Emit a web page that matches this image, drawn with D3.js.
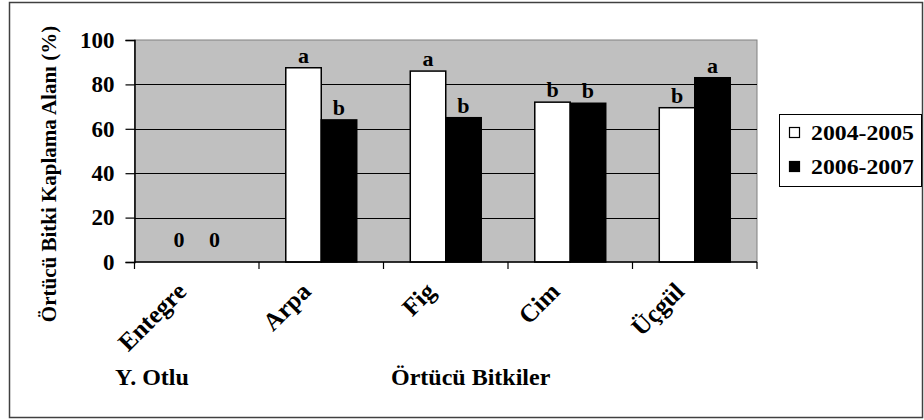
<!DOCTYPE html>
<html>
<head>
<meta charset="utf-8">
<script src="https://cdn.jsdelivr.net/npm/d3@7"></script>
<style>
  html, body { margin: 0; padding: 0; background: #fff; }
  svg { display: block; font-family: "Liberation Serif", "Times New Roman", serif; }
  text { font-family: "Liberation Serif", "Times New Roman", serif; font-weight: bold; fill: #000; }
</style>
</head>
<body>
<svg id="chart" width="924" height="420"></svg>
<script>
const categories = ["Entegre", "Arpa", "Fig", "Cim", "Üçgül"];
const seriesNames = ["2004-2005", "2006-2007"];
const values2004 = [0, 87.5, 86, 72, 69.5];
const values2006 = [0, 64, 65, 71.5, 83];
const letters2004 = ["0", "a", "a", "b", "b"];
const letters2006 = ["0", "b", "b", "b", "a"];
const yTicks = [0, 20, 40, 60, 80, 100];
const seriesFill = ["#ffffff", "#000000"];
const yTitle = "Örtücü Bitki Kaplama Alanı (%)";
const xTitle = "Örtücü Bitkiler";
const xSubTitle = "Y. Otlu";

const svg = d3.select("#chart");
const plot = { left: 134.5, right: 757, top: 40, bottom: 262 };

// outer border
svg.append("rect").attr("x", 9.5).attr("y", 2.5).attr("width", 913).attr("height", 415)
  .attr("fill", "#fff").attr("stroke", "#404040").attr("stroke-width", 1.5);

const x0 = d3.scaleBand().domain(categories).range([plot.left, plot.right]).padding(0);
const x1 = d3.scaleBand().domain(seriesNames)
  .range([x0.bandwidth() * 0.215, x0.bandwidth() * 0.785]).padding(0);
const y = d3.scaleLinear().domain([0, 100]).range([plot.bottom, plot.top]);

// plot background
svg.append("rect").attr("x", plot.left).attr("y", plot.top)
  .attr("width", plot.right - plot.left).attr("height", plot.bottom - plot.top)
  .attr("fill", "#c0c0c0").attr("stroke", "#808080").attr("stroke-width", 1);

// gridlines
svg.append("g").selectAll("line").data(yTicks.filter(t => t > 0 && t < 100)).join("line")
  .attr("x1", plot.left).attr("x2", plot.right)
  .attr("y1", d => Math.round(y(d)) + 0.5).attr("y2", d => Math.round(y(d)) + 0.5)
  .attr("stroke", "#000").attr("stroke-width", 1);

// bars
const rows = categories.map((c, i) => ({ cat: c, vals: [values2004[i], values2006[i]], labs: [letters2004[i], letters2006[i]] }));
const groups = svg.append("g").selectAll("g").data(rows).join("g")
  .attr("transform", d => `translate(${x0(d.cat)},0)`);
groups.selectAll("rect").data(d => d.vals.map((v, k) => ({ v, k, s: seriesNames[k] }))).join("rect")
  .filter(d => d.v > 0)
  .attr("x", d => x1(d.s)).attr("width", x1.bandwidth())
  .attr("y", d => y(d.v)).attr("height", d => y(0) - y(d.v))
  .attr("fill", d => seriesFill[d.k]).attr("stroke", "#000").attr("stroke-width", 1.5);
groups.selectAll("text").data(d => d.vals.map((v, k) => ({ v, k, s: seriesNames[k], lab: d.labs[k] }))).join("text")
  .attr("x", d => x1(d.s) + x1.bandwidth() / 2)
  .attr("y", d => Math.min(y(d.v) - 5, y(0) - 15))
  .attr("text-anchor", "middle").attr("font-size", 22).text(d => d.lab);

// y axis
const yAxis = d3.axisLeft(y).tickValues(yTicks).tickSize(9).tickPadding(11).tickFormat(d3.format("d"));
const gy = svg.append("g").attr("transform", `translate(${plot.left},0)`).call(yAxis)
  .attr("font-family", null);
gy.select(".domain").attr("stroke", "#000").attr("stroke-width", 1.5);
gy.selectAll(".tick line").attr("stroke", "#000").attr("stroke-width", 1.2);
gy.selectAll(".tick text").attr("font-size", 23).attr("fill", "#000");

// x axis (ticks at band boundaries)
svg.append("line").attr("x1", plot.left).attr("x2", plot.right).attr("y1", plot.bottom).attr("y2", plot.bottom)
  .attr("stroke", "#000").attr("stroke-width", 1.5);
const bounds = categories.map(c => x0(c)).concat([x0.range()[1]]);
svg.append("g").selectAll("line").data(bounds).join("line")
  .attr("x1", d => d).attr("x2", d => d).attr("y1", plot.bottom).attr("y2", plot.bottom + 7)
  .attr("stroke", "#000").attr("stroke-width", 1.2);

// category labels rotated
svg.append("g").selectAll("text").data(categories).join("text")
  .attr("transform", d => `translate(${x0(d) + x0.bandwidth() / 2 - 9},293) rotate(-45)`)
  .attr("text-anchor", "end").attr("font-size", 25).text(d => d);

// axis titles
svg.append("text").attr("transform", "translate(56,174) rotate(-90)")
  .attr("text-anchor", "middle").attr("font-size", 21).text(yTitle);
svg.append("text").attr("x", 115).attr("y", 385).attr("font-size", 24).text(xSubTitle);
svg.append("text").attr("x", 391).attr("y", 385).attr("font-size", 24).text(xTitle);

// legend
const lg = svg.append("g");
lg.append("rect").attr("x", 779.5).attr("y", 114.5).attr("width", 142).attr("height", 72)
  .attr("fill", "#fff").attr("stroke", "#000").attr("stroke-width", 1);
seriesNames.forEach((s, i) => {
  lg.append("rect").attr("x", 789.5).attr("y", 127.5 + i * 34).attr("width", 10).attr("height", 10)
    .attr("fill", seriesFill[i]).attr("stroke", "#000").attr("stroke-width", 1.2);
  lg.append("text").attr("x", 811).attr("y", 140 + i * 34).attr("font-size", 22)
    .attr("textLength", 103).attr("lengthAdjust", "spacingAndGlyphs").text(s);
});
</script>
</body>
</html>
